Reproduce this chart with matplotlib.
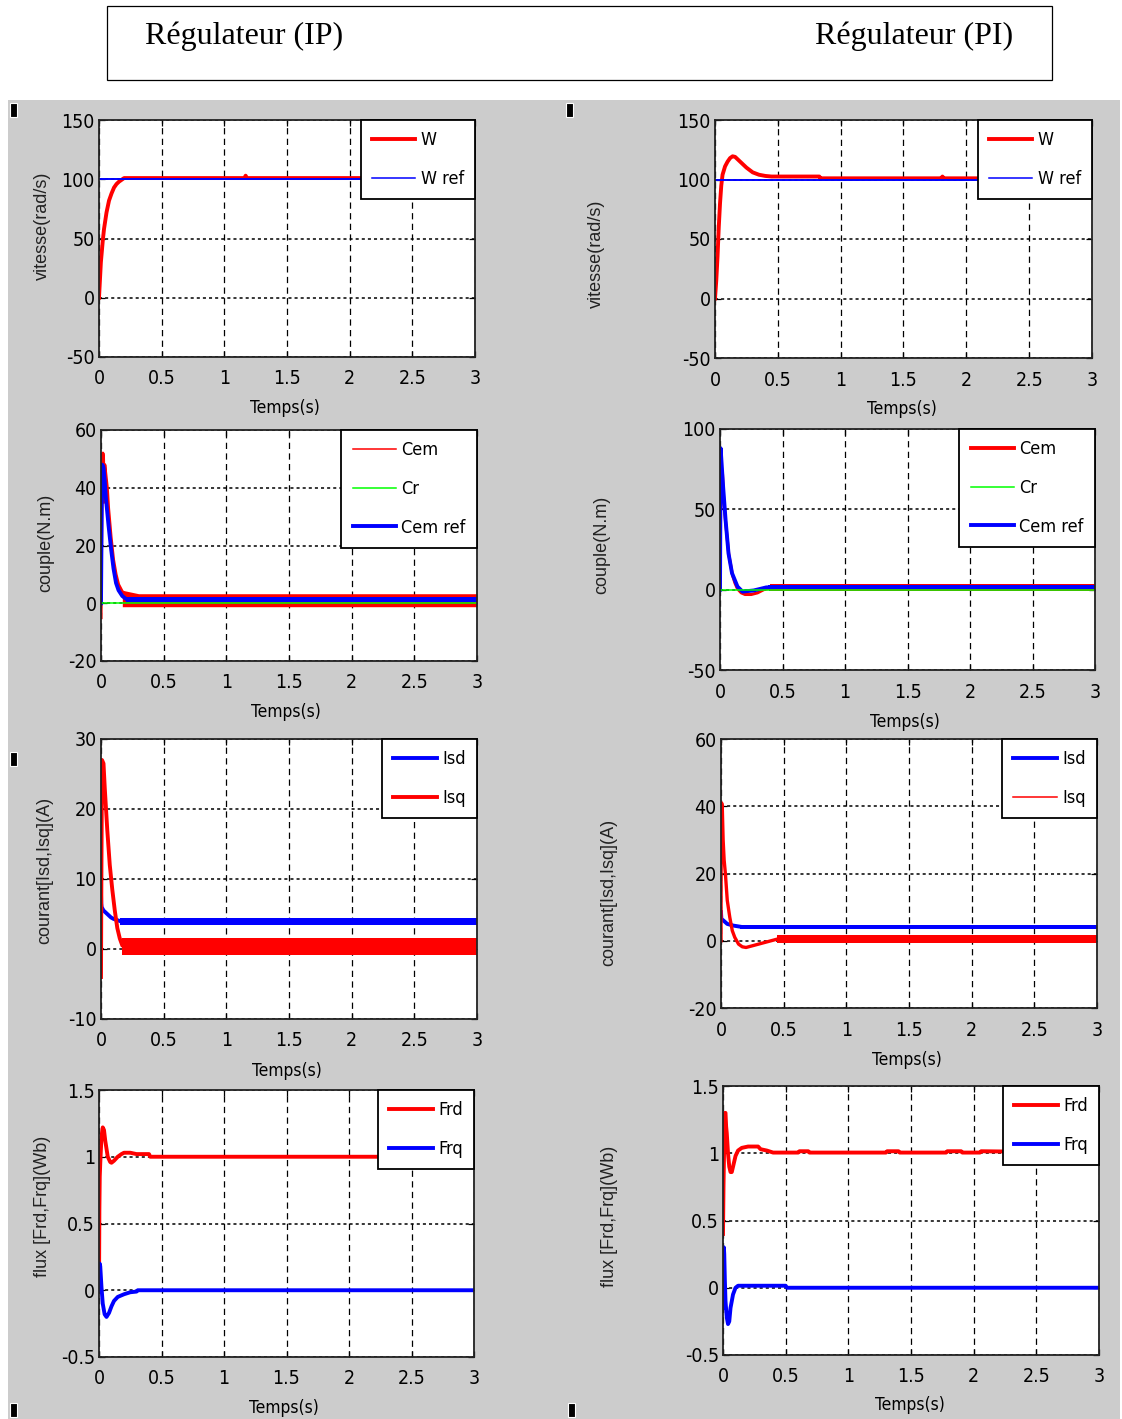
import matplotlib
matplotlib.use("Agg")
import os
import matplotlib.pyplot as plt
from matplotlib import font_manager
from matplotlib.font_manager import FontProperties
from matplotlib.lines import Line2D
from matplotlib.patches import Rectangle

W, H = 1122, 1419

# ---------------------------------------------------------------- fonts
_installed = {f.name for f in font_manager.fontManager.ttflist}
SANS = [n for n in ("Liberation Sans", "DejaVu Sans") if n in _installed]
SERIF = [n for n in ("Liberation Serif", "DejaVu Serif") if n in _installed]


def _narrow_font_file():
    """Return a regular-weight condensed/narrow sans font file if one exists."""
    best = None
    for f in font_manager.fontManager.ttflist:
        base = os.path.basename(f.fname).lower()
        if not any(k in base for k in ("condensed", "narrow")):
            continue
        if any(k in base for k in ("bold", "italic", "oblique", "light", "black",
                                   "thin", "medium", "semi", "extra", "mono", "serif")):
            continue
        score = 0 if "sans" in base or "roboto" in base else 1
        if best is None or score < best[0]:
            best = (score, f.fname)
    return best[1] if best else None


_nf = _narrow_font_file()


def narrow(size):
    if _nf:
        return FontProperties(fname=_nf, size=size)
    return FontProperties(family=SANS, size=size * 0.9)


RED, BLUE, GREEN = "#ff0000", "#0000ff", "#00ff00"

# ---------------------------------------------------------------- common axis data
t_ticks = [0, 0.5, 1, 1.5, 2, 2.5, 3]
t_ticklabels = ["0", "0.5", "1", "1.5", "2", "2.5", "3"]
column_titles = ["Régulateur (IP)", "Régulateur (PI)"]

# ---------------------------------------------------------------- speed  (rad/s)
speed_ticks = [-50, 0, 50, 100, 150]
speed_ref_t = [0, 3]
speed_ref = [100, 100]

speed_ip_t = [0, 0.005, 0.015, 0.03, 0.04, 0.06, 0.08, 0.1, 0.12, 0.14, 0.16, 0.18, 0.2,
              1.16, 1.17, 1.18, 3.0]
speed_ip = [0, 10, 30, 48, 58, 72, 82, 88, 93, 96, 98, 99.5, 101,
            101, 103, 101, 101]

speed_pi_t = [0, 0.01, 0.02, 0.03, 0.04, 0.05, 0.06, 0.08, 0.1, 0.12, 0.14, 0.16, 0.2, 0.25,
              0.3, 0.35, 0.4, 0.45, 0.83, 0.84, 1.8, 1.81, 1.82, 2.2, 2.21, 2.22, 3.0]
speed_pi = [0, 15, 35, 60, 80, 95, 104, 111, 115, 118, 119.5, 119, 115, 110,
            106, 104, 103, 102.5, 102.5, 101, 101, 102.5, 101, 101, 103, 101, 101]

# ---------------------------------------------------------------- torque  (N.m)
torque_ip_ticks = [-20, 0, 20, 40, 60]
torque_pi_ticks = [-50, 0, 50, 100]
load_t = [0, 3]
load = [0, 0]

cem_ip_t = [0, 0.003, 0.008, 0.015, 0.02, 0.025, 0.03, 0.04, 0.05, 0.06, 0.08, 0.1,
            0.12, 0.14, 0.17, 0.2]
cem_ip = [-5, 12, 40, 52, 50, 35, 48, 44, 40, 33, 23, 15, 10, 6.5, 4, 3]
cemref_ip_t = [0, 0.005, 0.01, 0.02, 0.03, 0.04, 0.06, 0.08, 0.1, 0.12, 0.14, 0.17, 0.2]
cemref_ip = [0, 30, 48, 47, 42, 36, 27, 19, 12, 7, 4.5, 2.5, 1.5]
# steady-state ripple envelopes (t, low, high)
cem_ip_band_t = [0.17, 0.3, 3.0]
cem_ip_band_lo = [-1.2, -1.2, -1.2]
cem_ip_band_hi = [4.5, 3.3, 3.3]
cemref_ip_band_t = [0.2, 3.0]
cemref_ip_band_lo = [0.3, 0.3]
cemref_ip_band_hi = [2.2, 2.2]

cem_pi_t = [0, 0.002, 0.008, 0.015, 0.02, 0.03, 0.045, 0.07, 0.1, 0.12, 0.14, 0.17, 0.2,
            0.25, 0.3, 0.35, 0.4]
cem_pi = [0, 35, 78, 65, 72, 55, 42, 22, 9, 4, 0.5, -2, -3, -3, -2, 0, 1]
cemref_pi_t = [0, 0.005, 0.025, 0.045, 0.068, 0.096, 0.14, 0.18, 0.27, 0.37, 0.45]
cemref_pi = [0, 88, 64, 43, 22.6, 10.3, 1.9, -1.2, -0.5, 1.4, 1.6]
cem_pi_band_t = [0.4, 3.0]
cem_pi_band_lo = [-0.8, -0.8]
cem_pi_band_hi = [3.5, 3.5]
cemref_pi_band_t = [0.38, 3.0]
cemref_pi_band_lo = [0.6, 0.6]
cemref_pi_band_hi = [2.6, 2.6]

# ---------------------------------------------------------------- currents  (A)
cur_ip_ticks = [-10, 0, 10, 20, 30]
cur_pi_ticks = [-20, 0, 20, 40, 60]

isd_ip_t = [0, 0.002, 0.005, 0.02, 0.05, 0.08, 0.1, 0.15]
isd_ip = [8, 6.5, 6, 5.5, 5, 4.5, 4.3, 4]
isd_ip_band_t = [0.15, 3.0]
isd_ip_band_lo = [3.4, 3.4]
isd_ip_band_hi = [4.4, 4.4]
isq_ip_t = [0, 0.003, 0.008, 0.02, 0.03, 0.05, 0.07, 0.09, 0.11, 0.13, 0.15, 0.17, 0.2]
isq_ip = [-4, 10, 27, 26.5, 23, 17, 12, 8.5, 5.5, 3, 1.5, 0.5, 0.3]
isq_ip_band_t = [0.17, 3.0]
isq_ip_band_lo = [-0.9, -0.9]
isq_ip_band_hi = [1.6, 1.6]

isd_pi_t = [0, 0.003, 0.02, 0.05, 0.1, 0.15]
isd_pi = [8.5, 6.5, 6, 5, 4.5, 4.2]
isd_pi_band_t = [0.15, 3.0]
isd_pi_band_lo = [3.5, 3.5]
isd_pi_band_hi = [4.7, 4.7]
isq_pi_t = [0, 0.001, 0.005, 0.01, 0.017, 0.025, 0.035, 0.05, 0.07, 0.09, 0.11, 0.14, 0.17,
            0.2, 0.25, 0.3, 0.35, 0.45]
isq_pi = [0, 28, 41, 40, 30, 24, 20, 12, 7, 3, 1, -1, -1.8, -2, -1.5, -1, -0.5, 0.5]
isq_pi_band_t = [0.45, 3.0]
isq_pi_band_lo = [-0.7, -0.7]
isq_pi_band_hi = [1.8, 1.8]

# ---------------------------------------------------------------- rotor flux  (Wb)
flux_ticks = [-0.5, 0, 0.5, 1, 1.5]

frd_ip_t = [0, 0.003, 0.006, 0.01, 0.02, 0.03, 0.04, 0.05, 0.07, 0.09, 0.1, 0.12, 0.15,
            0.18, 0.2, 0.25, 0.3, 0.35, 0.4, 0.41, 3.0]
frd_ip = [0.0, 0.6, 0.85, 0.95, 1.15, 1.22, 1.2, 1.12, 1.0, 0.96, 0.955, 0.97, 1.0,
          1.02, 1.03, 1.03, 1.02, 1.02, 1.02, 1.0, 1.0]
frq_ip_t = [0, 0.005, 0.01, 0.015, 0.02, 0.03, 0.045, 0.06, 0.08, 0.1, 0.12, 0.15, 0.2,
            0.25, 0.3, 0.31, 3.0]
frq_ip = [0, 0.2, 0.18, 0.1, 0.02, -0.1, -0.18, -0.2, -0.17, -0.12, -0.08, -0.05, -0.03,
          -0.015, -0.01, 0.0, 0.0]

frd_pi_t = [0, 0.004, 0.01, 0.015, 0.02, 0.025, 0.03, 0.04, 0.05, 0.06, 0.07, 0.08, 0.1,
            0.12, 0.15, 0.2, 0.28, 0.3, 0.35, 0.4,
            0.6, 0.61, 0.68, 0.69, 1.3, 1.31, 1.4, 1.41, 1.78, 1.79, 1.9, 1.91, 2.05, 2.06,
            3.0]
frd_pi = [0.4, 0.75, 1.1, 1.3, 1.3, 1.2, 1.15, 1.0, 0.9, 0.86, 0.86, 0.9, 0.98,
          1.02, 1.04, 1.05, 1.05, 1.03, 1.02, 1.005,
          1.005, 1.015, 1.015, 1.005, 1.005, 1.015, 1.015, 1.005, 1.005, 1.015, 1.015,
          1.005, 1.005, 1.015, 1.005]
frq_pi_t = [0, 0.002, 0.004, 0.007, 0.01, 0.015, 0.02, 0.03, 0.04, 0.05, 0.06, 0.08, 0.1,
            0.12, 0.5, 0.51, 3.0]
frq_pi = [0, 0.3, -0.15, 0.3, 0.25, 0.05, -0.1, -0.22, -0.27, -0.25, -0.15, -0.05, 0.0,
          0.015, 0.015, 0.0, 0.0]

# ---------------------------------------------------------------- figure
fig = plt.figure(figsize=(W / 100, H / 100), dpi=100)
fig.patch.set_facecolor("white")


def frect(x0, y0, x1, y1):
    return [x0 / W, 1 - y1 / H, (x1 - x0) / W, (y1 - y0) / H]


# grey window backgrounds and header box (kept underneath the axes)
fig.patches.append(Rectangle((8 / W, 0), (1120 - 8) / W, (H - 100) / H,
                             transform=fig.transFigure, facecolor="#cccccc",
                             edgecolor="none", zorder=-10))
fig.patches.append(Rectangle((107 / W, 1 - 80 / H), (1052 - 107) / W, 74 / H,
                             transform=fig.transFigure, facecolor="white",
                             edgecolor="black", linewidth=0.9, zorder=-9))
for (mx, my) in [(10, 103), (566, 103), (10, 752), (10, 1403), (568, 1403)]:
    fig.patches.append(Rectangle((mx / W, 1 - (my + 14) / H), 7 / W, 14 / H,
                                 transform=fig.transFigure, facecolor="black",
                                 edgecolor="white", linewidth=0.8, zorder=-8))

fig.text(145 / W, 1 - 36 / H, column_titles[0], family=SERIF, fontsize=23,
         ha="left", va="center")
fig.text(1013 / W, 1 - 36 / H, column_titles[1], family=SERIF, fontsize=23,
         ha="right", va="center")

TICK_FP = narrow(14)
XLAB_FP = narrow(12.5)
LEG_FP = narrow(13)


def make_axes(box, ylim, yticks, ylabel, ylabel_xy, xlabel_xy):
    x0, y0, x1, y1 = box
    ax = fig.add_axes(frect(x0, y0, x1, y1))
    ax.set_facecolor("white")
    ax.set_xlim(0, 3)
    ax.set_ylim(*ylim)
    ax.set_xticks(t_ticks)
    ax.set_xticklabels(t_ticklabels)
    ax.set_yticks(yticks)
    ax.set_yticklabels([f"{v:g}" for v in yticks])
    for lab in ax.get_xticklabels() + ax.get_yticklabels():
        lab.set_fontproperties(TICK_FP)
    ax.tick_params(direction="in", top=True, right=True, length=4, width=0.9,
                   pad=3)
    ax.tick_params(axis="x", pad=9)
    for s in ax.spines.values():
        s.set_linewidth(1.3)
        s.set_color("#222222")
    ax.grid(axis="x", color="black", linestyle=(0, (5, 3.5)), linewidth=0.9)
    ax.grid(axis="y", color="black", linestyle=(0, (2, 2)), linewidth=1.1)
    ax.set_axisbelow(True)
    ax.set_xlabel("Temps(s)", fontproperties=XLAB_FP)
    ax.xaxis.label.set_va("center")
    ax.xaxis.set_label_coords((xlabel_xy[0] - x0) / (x1 - x0),
                              (y1 - xlabel_xy[1]) / (y1 - y0))
    ax.set_ylabel(ylabel, family=SANS, fontsize=13, color="#222222")
    ax.yaxis.label.set_va("center")
    ax.yaxis.set_label_coords((ylabel_xy[0] - x0) / (x1 - x0),
                              (y1 - ylabel_xy[1]) / (y1 - y0))
    return ax


def add_legend(ax, entries):
    handles = [Line2D([], [], color=c, linewidth=lw) for (_, c, lw) in entries]
    labels = [lab for (lab, _, _) in entries]
    leg = ax.legend(handles, labels, loc="upper right", bbox_to_anchor=(1, 1),
                    borderaxespad=0, fancybox=False, framealpha=1, edgecolor="black",
                    prop=LEG_FP, handlelength=2.4,
                    handletextpad=0.3, labelspacing=1.15, borderpad=0.62)
    leg.get_frame().set_linewidth(1.3)
    leg.set_zorder(10)


THICK, THIN = 2.8, 1.1

# ---- speed
ax = make_axes((99, 120, 475, 357), (-50, 150), speed_ticks, "vitesse(rad/s)",
               (42, 226), (285, 408))
ax.plot(speed_ip_t, speed_ip, color=RED, lw=THICK)
ax.plot(speed_ref_t, speed_ref, color=BLUE, lw=1.4)
add_legend(ax, [("W", RED, THICK), ("W ref", BLUE, THIN)])

ax = make_axes((715, 120, 1092, 358), (-50, 150), speed_ticks, "vitesse(rad/s)",
               (596, 254), (902, 409))
ax.plot(speed_pi_t, speed_pi, color=RED, lw=THICK)
ax.plot(speed_ref_t, speed_ref, color=BLUE, lw=1.4)
add_legend(ax, [("W", RED, THICK), ("W ref", BLUE, THIN)])

# ---- torque
ax = make_axes((101, 430, 477, 661), (-20, 60), torque_ip_ticks, "couple(N.m)",
               (46, 543), (286, 712))
ax.fill_between(cem_ip_band_t, cem_ip_band_lo, cem_ip_band_hi, color=RED, lw=0)
ax.plot(cem_ip_t, cem_ip, color=RED, lw=2.2)
ax.fill_between(cemref_ip_band_t, cemref_ip_band_lo, cemref_ip_band_hi, color=BLUE, lw=0)
ax.plot(cemref_ip_t, cemref_ip, color=BLUE, lw=THICK)
ax.plot(load_t, load, color=GREEN, lw=THIN)
add_legend(ax, [("Cem", RED, THIN), ("Cr", GREEN, THIN), ("Cem ref", BLUE, THICK)])

ax = make_axes((720, 429, 1095, 670), (-50, 100), torque_pi_ticks, "couple(N.m)",
               (602, 545), (905, 722))
ax.fill_between(cem_pi_band_t, cem_pi_band_lo, cem_pi_band_hi, color=RED, lw=0)
ax.plot(cem_pi_t, cem_pi, color=RED, lw=2.2)
ax.fill_between(cemref_pi_band_t, cemref_pi_band_lo, cemref_pi_band_hi, color=BLUE, lw=0)
ax.plot(cemref_pi_t, cemref_pi, color=BLUE, lw=THICK)
ax.plot(load_t, load, color=GREEN, lw=THIN)
add_legend(ax, [("Cem", RED, THICK), ("Cr", GREEN, THIN), ("Cem ref", BLUE, THICK)])

# ---- currents
ax = make_axes((101, 739, 477, 1019), (-10, 30), cur_ip_ticks, "courant[Isd,Isq](A)",
               (45, 870), (287, 1071))
ax.fill_between(isd_ip_band_t, isd_ip_band_lo, isd_ip_band_hi, color=BLUE, lw=0)
ax.plot(isd_ip_t, isd_ip, color=BLUE, lw=THICK)
ax.fill_between(isq_ip_band_t, isq_ip_band_lo, isq_ip_band_hi, color=RED, lw=0)
ax.plot(isq_ip_t, isq_ip, color=RED, lw=THICK)
add_legend(ax, [("Isd", BLUE, THICK), ("Isq", RED, THICK)])

ax = make_axes((721, 739, 1097, 1008), (-20, 60), cur_pi_ticks, "courant[Isd,Isq](A)",
               (609, 892), (907, 1060))
ax.fill_between(isd_pi_band_t, isd_pi_band_lo, isd_pi_band_hi, color=BLUE, lw=0)
ax.plot(isd_pi_t, isd_pi, color=BLUE, lw=THICK)
ax.fill_between(isq_pi_band_t, isq_pi_band_lo, isq_pi_band_hi, color=RED, lw=0)
ax.plot(isq_pi_t, isq_pi, color=RED, lw=2.4)
add_legend(ax, [("Isd", BLUE, THICK), ("Isq", RED, THIN)])

# ---- rotor flux
ax = make_axes((99, 1090, 474, 1357), (-0.5, 1.5), flux_ticks, "flux [Frd,Frq](Wb)",
               (43, 1206), (284, 1408))
ax.plot(frd_ip_t, frd_ip, color=RED, lw=THICK)
ax.plot(frq_ip_t, frq_ip, color=BLUE, lw=THICK)
add_legend(ax, [("Frd", RED, THICK), ("Frq", BLUE, THICK)])

ax = make_axes((723, 1086, 1099, 1355), (-0.5, 1.5), flux_ticks, "flux [Frd,Frq](Wb)",
               (609, 1216), (910, 1405))
ax.plot(frd_pi_t, frd_pi, color=RED, lw=THICK)
ax.plot(frq_pi_t, frq_pi, color=BLUE, lw=THICK)
add_legend(ax, [("Frd", RED, THICK), ("Frq", BLUE, THICK)])

fig.savefig("out.png", dpi=100, facecolor=fig.get_facecolor())
